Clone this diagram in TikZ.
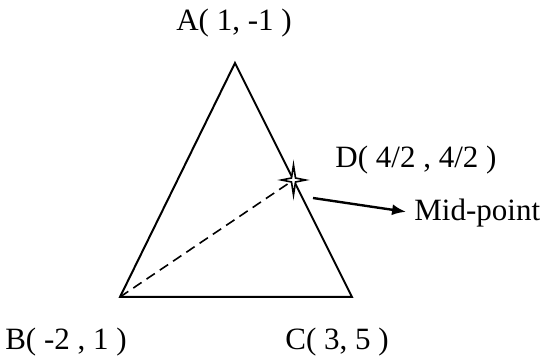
\documentclass[tikz,border=0pt]{standalone}
\usepackage{fontspec}
\setmainfont{Liberation Serif}
\usetikzlibrary{arrows.meta, positioning, calc}

\begin{document}
\begin{tikzpicture}[x=0.5pt, y=-0.5pt, font=\fontsize{15.5}{18}\selectfont,
    side/.style={line width=1pt},
    median/.style={line width=0.8pt, dash pattern=on 5pt off 3pt},
    pointer/.style={line width=1.2pt, -{Latex[length=7pt,width=5.5pt]}, shorten >=4pt}]
  \useasboundingbox (0,0) rectangle (553,358);

  % Triangle vertices
  \coordinate (A) at (235,63);
  \coordinate (B) at (120,297);
  \coordinate (C) at (352,297);
  \coordinate (D) at ($(A)!0.5!(C)$);

  % Draw triangle
  \draw[side] (A) -- (B) -- (C) -- cycle;

  % Dashed median from B
  \draw[median] (B) -- (D);

  % Star at mid-point
  \filldraw[fill=white, line width=0.8pt] (D) ++(0,-15) -- ++(2,13) -- ++(10,2)
    -- ++(-10,2) -- ++(-2,13) -- ++(-2,-13) -- ++(-10,-2) -- ++(10,-2) -- cycle;

  % Labels
  \node (labA) at (234,23) {A( 1, -1 )};
  \node (labB) at (66,342) {B( -2 , 1 )};
  \node (labC) at (337,342) {C( 3, 5 )};
  \node (labD) at (416,160) {D( 4/2 , 4/2 )};
  \node (mid) at (414,213) [right, inner sep=0pt] {Mid-point};

  % Pointer to mid-point
  \coordinate (P) at (313,198);
  \draw[pointer] (P) -- (mid.west);
\end{tikzpicture}
\end{document}
